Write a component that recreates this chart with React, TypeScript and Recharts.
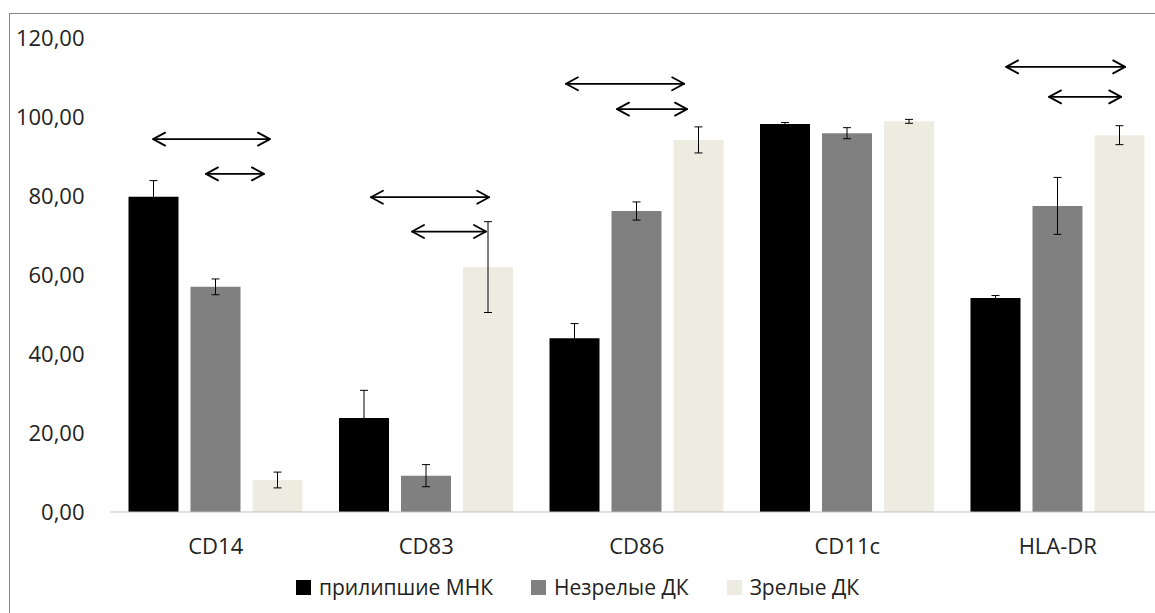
import { Bar, BarChart, ErrorBar, Legend, ReferenceLine, XAxis, YAxis } from "recharts";

const categories = ["CD14", "CD83", "CD86", "CD11c", "HLA-DR"];
const seriesNames = ["прилипшие МНК", "Незрелые ДК", "Зрелые ДК"];
const seriesColors = ["#000000", "#808080", "#eeece1"];

const mnkValues = [79.8, 23.8, 44.0, 98.2, 54.2];
const mnkErrors = [4.1, 7.0, 3.7, 0.4, 0.6];
const immatureValues = [57.0, 9.2, 76.2, 95.9, 77.5];
const immatureErrors = [2.0, 2.8, 2.3, 1.4, 7.2];
const matureValues = [8.1, 62.0, 94.2, 98.9, 95.4];
const matureErrors = [2.0, 11.5, 3.3, 0.5, 2.4];

const yTicks = [0, 20, 40, 60, 80, 100, 120];

// comparison arrows: x along the hidden 0..4 axis (plot left edge to right edge), y in data units
const arrowFrom = [0.162, 0.363, 0.99, 1.146, 1.731, 1.925, 3.404, 3.567];
const arrowTo = [0.606, 0.583, 1.439, 1.427, 2.18, 2.191, 3.856, 3.841];
const arrowLevel = [94.4, 85.6, 79.7, 71.0, 108.4, 102.0, 112.7, 105.1];

const data = categories.map((name, i) => ({
  name,
  mnk: mnkValues[i],
  mnkErr: mnkErrors[i],
  immature: immatureValues[i],
  immatureErr: immatureErrors[i],
  mature: matureValues[i],
  matureErr: matureErrors[i],
}));

const FONT = "'Open Sans', 'Noto Sans', sans-serif";
const fmt = (v: number) => v.toFixed(2).replace(".", ",");

function DoubleArrow(props: any) {
  const { x1, y1, x2 } = props;
  const left = Math.min(x1, x2);
  const right = Math.max(x1, x2);
  const y = y1;
  const hl = 12;
  const hh = 6.5;
  return (
    <g stroke="#000" strokeWidth={1.8} fill="none" strokeLinecap="round" strokeLinejoin="round">
      <line x1={left} y1={y} x2={right} y2={y} />
      <polyline points={`${left + hl},${y - hh} ${left},${y} ${left + hl},${y + hh}`} />
      <polyline points={`${right - hl},${y - hh} ${right},${y} ${right - hl},${y + hh}`} />
    </g>
  );
}

function LegendContent() {
  return (
    <div
      style={{
        display: "flex",
        justifyContent: "center",
        alignItems: "center",
        height: 30,
        fontFamily: FONT,
        fontSize: 21,
        color: "#222",
      }}
    >
      {seriesNames.map((s, i) => (
        <div key={s} style={{ display: "flex", alignItems: "center", marginLeft: i ? 38 : 0 }}>
          <span style={{ width: 15, height: 15, background: seriesColors[i], marginRight: 8, display: "inline-block" }} />
          <span>{s}</span>
        </div>
      ))}
    </div>
  );
}

export default function App() {
  return (
    <div style={{ position: "fixed", left: 0, top: 0, width: 1155, height: 613, overflow: "hidden", background: "#fff" }}>
      <div
        style={{
          position: "absolute",
          left: 9,
          top: 13,
          width: 1200,
          height: 700,
          border: "1px solid #868686",
        }}
      />
      <div style={{ position: "absolute", left: 0, top: 0 }}>
        <BarChart
          width={1190}
          height={612}
          data={data}
          margin={{ top: 38, right: 27, left: 0, bottom: 10 }}
          barSize={50}
          barGap={12}
        >
          <XAxis
            dataKey="name"
            height={60}
            tickSize={0}
            tickMargin={26}
            tick={{ fontSize: 22, fill: "#222", fontFamily: FONT }}
            axisLine={{ stroke: "#c0c0c0", strokeWidth: 1 }}
            tickLine={false}
          />
          <XAxis xAxisId="u" type="number" domain={[0, 4]} allowDataOverflow hide />
          <YAxis
            width={110.5}
            domain={[0, 120]}
            ticks={yTicks}
            tickFormatter={fmt}
            tickSize={0}
            tickMargin={26}
            tick={{ fontSize: 22, fill: "#222", fontFamily: FONT }}
            axisLine={false}
            tickLine={false}
          />
          <Legend verticalAlign="bottom" content={<LegendContent />} wrapperStyle={{ left: 0, width: 1155 }} />
          <Bar dataKey="mnk" name={seriesNames[0]} fill={seriesColors[0]} isAnimationActive={false}>
            <ErrorBar dataKey="mnkErr" width={4} stroke="#000" strokeWidth={1} direction="y" />
          </Bar>
          <Bar dataKey="immature" name={seriesNames[1]} fill={seriesColors[1]} isAnimationActive={false}>
            <ErrorBar dataKey="immatureErr" width={4} stroke="#000" strokeWidth={1} direction="y" />
          </Bar>
          <Bar dataKey="mature" name={seriesNames[2]} fill={seriesColors[2]} isAnimationActive={false}>
            <ErrorBar dataKey="matureErr" width={4} stroke="#000" strokeWidth={1} direction="y" />
          </Bar>
          {arrowLevel.map((lvl, i) => (
            <ReferenceLine
              key={i}
              xAxisId="u"
              segment={[
                { x: arrowFrom[i], y: lvl },
                { x: arrowTo[i], y: lvl },
              ]}
              ifOverflow="visible"
              shape={DoubleArrow}
            />
          ))}
        </BarChart>
      </div>
    </div>
  );
}
